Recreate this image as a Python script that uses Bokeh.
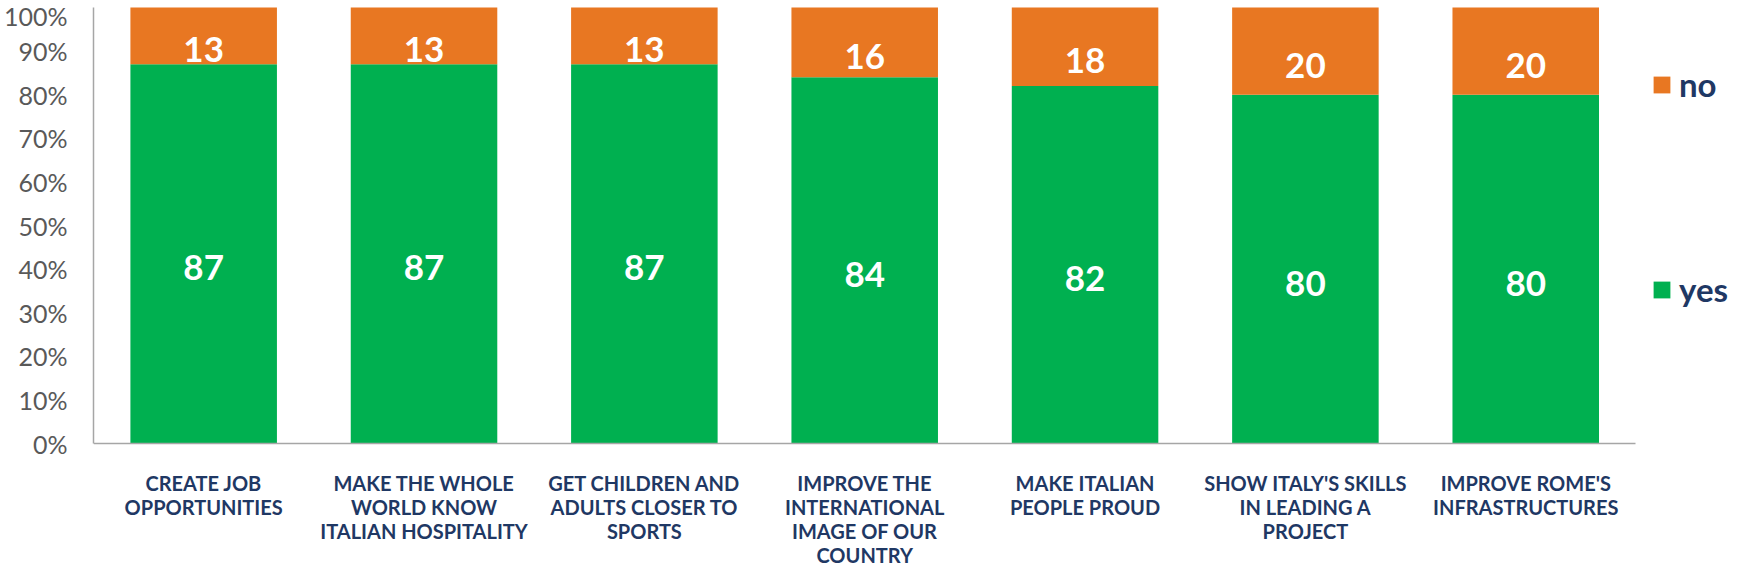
from bokeh.plotting import figure
from bokeh.models import (Range1d, FixedTicker, PrintfTickFormatter,
                          Legend, LegendItem, ColumnDataSource)
from bokeh.core.properties import value
from bokeh.embed import file_html
from bokeh.resources import INLINE

categories = ["CREATE JOB\nOPPORTUNITIES",
              "MAKE THE WHOLE\nWORLD KNOW\nITALIAN HOSPITALITY",
              "GET CHILDREN AND\nADULTS CLOSER TO\nSPORTS",
              "IMPROVE THE\nINTERNATIONAL\nIMAGE OF OUR\nCOUNTRY",
              "MAKE ITALIAN\nPEOPLE PROUD",
              "SHOW ITALY'S SKILLS\nIN LEADING A\nPROJECT",
              "IMPROVE ROME'S\nINFRASTRUCTURES"]
yes = [87, 87, 87, 84, 82, 80, 80]
no = [13, 13, 13, 16, 18, 20, 20]
y_ticks = [0, 10, 20, 30, 40, 50, 60, 70, 80, 90, 100]

GREEN = "#00B050"
ORANGE = "#E87722"
NAVY = "#1F3864"
GRAY = "#595959"
FONT = "Lato"

# layout (pixels)
W, H = 1732, 568
LEFT = 86            # frame left edge
PLOT_W = 1549        # width occupied by the categories
PLOT_TOP, PLOT_BOTTOM = 7, 443   # y of 100% and 0%
n = len(categories)
px_per_cat = PLOT_W / n
px_per_pct = (PLOT_BOTTOM - PLOT_TOP) / 100.0
x_end = (W - LEFT) / px_per_cat
y_end = 100 + PLOT_TOP / px_per_pct
y_start = -(H - PLOT_BOTTOM) / px_per_pct

xpos = [i + 0.5 for i in range(n)]
src = ColumnDataSource(dict(
    x=xpos, yes=yes, no=no,
    yes_mid=[v / 2 for v in yes],
    no_mid=[a + b / 2 for a, b in zip(yes, no)],
    yes_txt=[str(v) for v in yes],
    no_txt=[str(v) for v in no],
))

p = figure(x_range=Range1d(0, x_end), y_range=Range1d(y_start, y_end),
           width=W, height=H,
           min_border_left=LEFT, min_border_right=0,
           min_border_top=0, min_border_bottom=0,
           output_backend="svg", toolbar_location=None,
           background_fill_color="white", border_fill_color="white")
p.outline_line_color = None
p.grid.visible = False

rs = p.vbar_stack(["yes", "no"], x="x", width=0.665, source=src,
                  color=[GREEN, ORANGE], line_color=None)

for ycol, tcol in (("yes_mid", "yes_txt"), ("no_mid", "no_txt")):
    p.text(x="x", y=ycol, text=tcol, source=src,
           text_color="white", text_font=value(FONT), text_font_style="bold",
           text_font_size="35px", text_align="center",
           text_baseline="alphabetic", y_offset=14)

# y axis
p.yaxis.ticker = FixedTicker(ticks=y_ticks)
p.yaxis.formatter = PrintfTickFormatter(format="%d%%")
p.yaxis.bounds = (0, 100)
p.yaxis.major_tick_out = 0
p.yaxis.major_tick_in = 0
p.yaxis.minor_tick_out = 0
p.yaxis.minor_tick_in = 0
p.yaxis.axis_line_color = "#A6A6A6"
p.yaxis.axis_line_width = 1.5
p.yaxis.major_label_text_font = FONT
p.yaxis.major_label_text_font_size = "25px"
p.yaxis.major_label_text_color = GRAY
p.yaxis.major_label_standoff = 26

# x axis (drawn at 0%)
p.xaxis.fixed_location = 0
p.xaxis.bounds = (0, n)
p.xaxis.ticker = FixedTicker(ticks=xpos)
p.xaxis.major_label_overrides = {x: lab for x, lab in zip(xpos, categories)}
p.xaxis.major_tick_out = 0
p.xaxis.major_tick_in = 0
p.xaxis.minor_tick_out = 0
p.xaxis.minor_tick_in = 0
p.xaxis.axis_line_color = "#A6A6A6"
p.xaxis.axis_line_width = 1.5
p.xaxis.major_label_text_font = FONT
p.xaxis.major_label_text_font_style = "bold"
p.xaxis.major_label_text_font_size = "20px"
p.xaxis.major_label_text_line_height = 1.0
p.xaxis.major_label_text_color = NAVY
p.xaxis.major_label_standoff = 27

legend = Legend(items=[LegendItem(label="no", renderers=[rs[1]]),
                       LegendItem(label="yes", renderers=[rs[0]])],
                location=(1558, 259),
                glyph_width=21, glyph_height=21, label_standoff=7,
                spacing=165, padding=0, margin=0,
                border_line_color=None, background_fill_alpha=0,
                label_text_font=FONT, label_text_font_style="bold",
                label_text_font_size="33px", label_text_color=NAVY)
p.add_layout(legend)

open("out.html", "w").write(file_html(p, INLINE))
